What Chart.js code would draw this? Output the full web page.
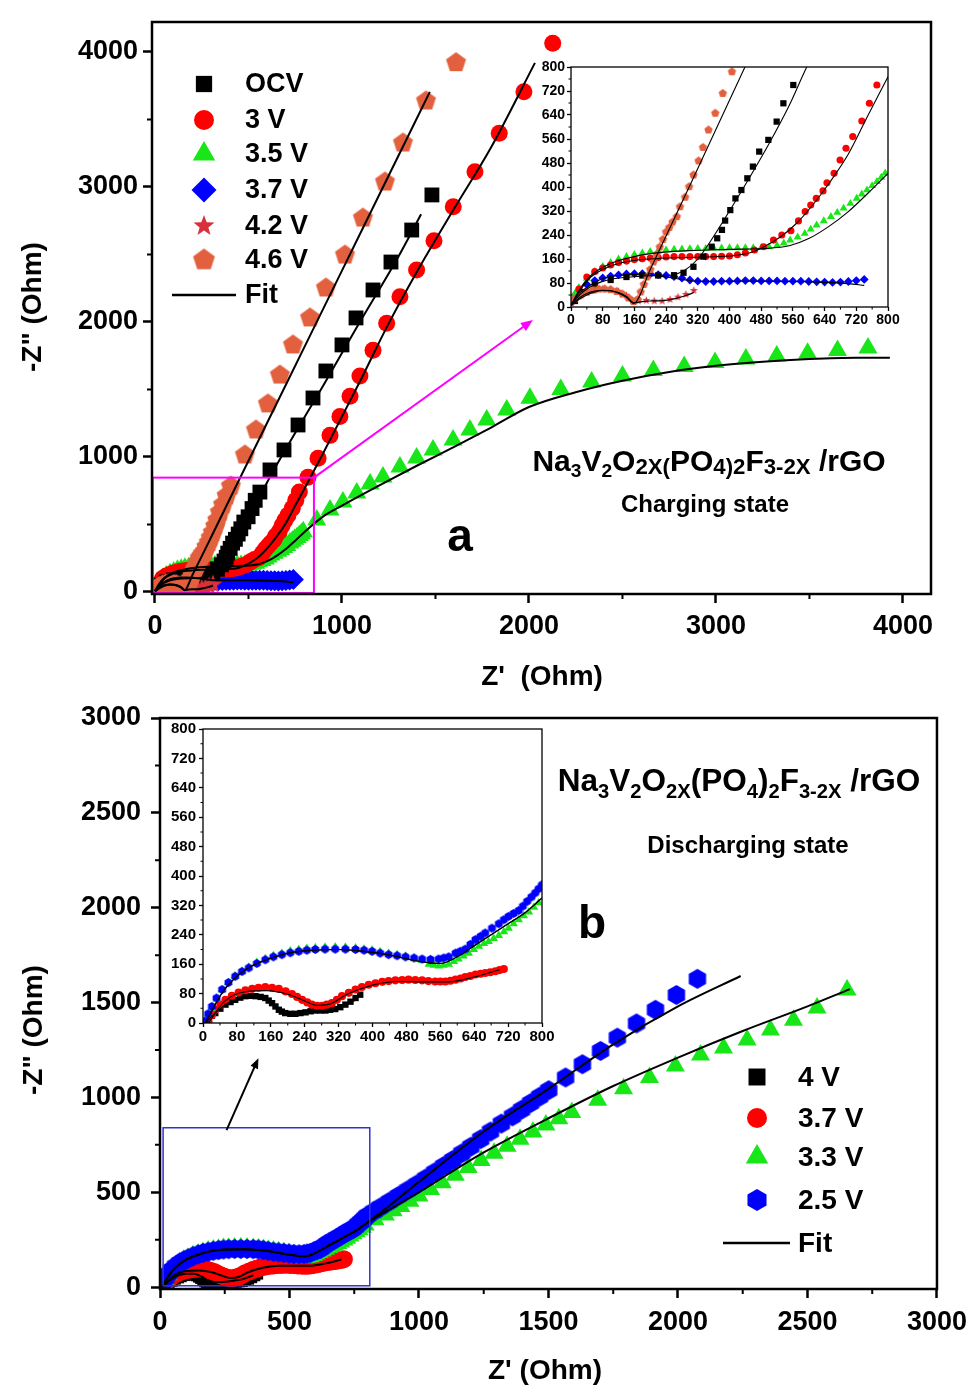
<!DOCTYPE html>
<html>
<head>
<meta charset="utf-8">
<script src="https://cdn.jsdelivr.net/npm/chart.js@4.4.0/dist/chart.umd.min.js"></script>
<style>
  body { margin: 0; background: #fff; }
  #page { position: relative; width: 975px; height: 1392px; overflow: hidden; font-family: "Liberation Sans", Arial, sans-serif; }
  #page canvas { position: absolute; left: 0; top: 0; }
  .lbl { position: absolute; font-weight: bold; color: #000; white-space: nowrap; transform: translate(-50%, -50%); line-height: 1; }
  .lbl sub { font-size: 0.64em; vertical-align: -0.32em; line-height: 0; }
  .lbl .s { font-size: 0.74em; vertical-align: -0.12em; }
  .rot { transform: translate(-50%, -50%) rotate(-90deg); }
</style>
</head>
<body>
<div id="page">
  <canvas id="mainA" width="975" height="1392"></canvas>
  <canvas id="insetA" width="975" height="1392"></canvas>
  <canvas id="mainB" width="975" height="1392"></canvas>
  <canvas id="insetB" width="975" height="1392"></canvas>

  <div class="lbl rot" style="left:32px;top:307px;font-size:28px;">-Z" (Ohm)</div>
  <div class="lbl" style="left:542px;top:676px;font-size:28px;">Z'&nbsp;&nbsp;(Ohm)</div>
  <div class="lbl" style="left:709px;top:462px;font-size:30px;">Na<sub>3</sub>V<sub>2</sub>O<span class="s">2X(</span>PO<span class="s">4)2</span>F<span class="s">3-2X</span> /rGO</div>
  <div class="lbl" style="left:705px;top:504px;font-size:24px;">Charging state</div>
  <div class="lbl" style="left:460px;top:535px;font-size:46px;">a</div>

  <div class="lbl rot" style="left:33px;top:1030px;font-size:28px;">-Z" (Ohm)</div>
  <div class="lbl" style="left:545px;top:1370px;font-size:28px;">Z' (Ohm)</div>
  <div class="lbl" style="left:739px;top:781px;font-size:31.5px;">Na<sub>3</sub>V<sub>2</sub>O<sub>2X</sub>(PO<sub>4</sub>)<sub>2</sub>F<sub>3-2X</sub> /rGO</div>
  <div class="lbl" style="left:748px;top:845px;font-size:24px;">Discharging state</div>
  <div class="lbl" style="left:592px;top:922px;font-size:46px;">b</div>
</div>

<script>
// ---------- panel a : charging state ----------
const aLabels = ['OCV', '3 V', '3.5 V', '3.7 V', '4.2 V', '4.6 V', 'Fit'];

const ocvX = [10,30,60,100,140,180,220,260,284,309,334,355,369,381,389,402,415,430,445,459,475,498,519,536,561,615,690,765,845,914,1000,1075,1166,1262,1373,1481];
const ocvY = [20,50,75,90,100,105,105,106,114,134,168,201,229,257,288,323,362,390,429,468,518,557,618,679,740,904,1052,1237,1437,1637,1830,2030,2237,2444,2681,2941];

const v30X = [5,20,40,60,80,100,120,140,160,180,200,220,240,260,280,300,320,340,360,380,400,420,440,463,486,511,532,555,574,591,605,619,636,646,664,679,694,711,734,753,772,818,872,936,989,1043,1096,1166,1239,1310,1399,1492,1595,1711,1841,1973,2127];
const v30Y = [20,60,100,118,130,140,148,153,158,161,163,165,167,168,168,168,168,168,168,169,170,174,180,190,201,223,240,254,287,318,340,362,387,414,446,490,529,568,620,679,740,850,990,1160,1300,1450,1600,1790,1990,2187,2385,2602,2854,3113,3398,3706,4064];

const v35X = [0,10,20,40,60,80,100,120,140,160,180,200,220,240,260,280,300,320,340,360,380,400,420,440,460,480,500,520,537,553,572,590,605,620,638,656,672,688,705,721,734,747,760,772,783,793,865,936,1005,1079,1150,1219,1310,1399,1487,1594,1684,1774,1881,2005,2170,2335,2500,2665,2830,2995,3160,3325,3490,3650,3813];
const v35Y = [20,45,65,95,118,135,148,160,168,175,180,185,187,190,192,193,194,195,195,196,196,197,197,197,197,198,200,205,213,223,233,245,259,273,287,301,315,329,345,362,376,390,404,418,432,446,533,607,667,733,800,852,926,993,1052,1126,1200,1274,1348,1435,1500,1555,1600,1640,1670,1700,1725,1748,1768,1788,1807];

const v37X = [0,10,20,40,60,80,100,120,140,160,180,200,220,240,260,280,300,320,340,360,380,400,420,440,460,480,500,520,540,560,580,600,620,640,660,680,700,720,740];
const v37Y = [20,40,55,75,88,97,103,107,110,111,111,110,108,105,101,96,90,86,85,85,86,86,87,88,88,87,87,87,86,86,86,85,84,83,82,83,85,88,92];

const v42X = [0,10,20,40,60,80,100,120,140,155,170,190,210,230,250,270,290,310];
const v42Y = [15,25,35,48,56,60,58,52,38,22,20,22,20,20,25,33,42,55];

const v46X = [0,10,25,40,55,70,85,100,115,130,145,158,168,176,184,192,200,208,216,224,232,240,248,256,267,275,288,298,309,322,333,347,364,383,406,481,540,604,668,738,829,914,1016,1112,1230,1326,1449,1610];
const v46Y = [15,28,40,50,56,60,60,58,52,43,30,18,25,50,75,100,125,150,175,200,225,250,265,283,301,334,366,401,440,487,532,590,646,712,784,1015,1200,1393,1607,1830,2030,2252,2496,2770,3037,3326,3637,3921];

// fitted curves, panel a
const fOcvX = [0,30,60,100,150,200,250,290,320,350,400,450,500,550,595,700,900,1100,1300,1423];
const fOcvY = [10,50,75,92,100,104,106,125,160,215,320,430,545,670,800,1060,1530,2010,2480,2798];
const f30X = [0,20,50,80,120,160,200,260,320,400,450,486,530,570,610,650,700,750,801,900,1000,1100,1239,1400,1600,1800,2032];
const f30Y = [5,50,100,125,145,155,160,164,166,170,180,200,235,280,340,410,510,640,770,1030,1300,1570,1960,2370,2840,3300,3919];
const f35X = [0,20,50,100,150,200,300,400,500,553,600,650,700,750,800,900,1000,1200,1400,1600,1800,2000,2250,2500,2750,3000,3250,3500,3750,3930];
const f35Y = [5,55,105,145,165,178,188,192,196,205,228,268,318,380,445,560,640,790,935,1075,1220,1370,1480,1565,1630,1675,1705,1725,1735,1735];
const f37X = [0,20,40,80,120,160,200,240,280,320,400,500,600,700,740];
const f37Y = [5,45,65,95,105,108,106,100,92,86,86,86,84,78,72];
const f42X = [0,20,40,60,80,100,120,140,160,180,200,230,260,290,310];
const f42Y = [5,25,40,50,55,54,48,35,14,18,20,21,27,38,48];
const f46X = [0,20,40,60,80,100,120,140,158,200,300,439,700,1000,1250,1470];
const f46Y = [5,30,45,53,56,54,46,32,12,125,405,800,1535,2380,3085,3704];

// ---------- panel b : discharging state ----------
const bLabels = ['4 V', '3.7 V', '3.3 V', '2.5 V', 'Fit'];

const d40X = [5,13,21,29,41,53,65,76,88,100,112,124,136,147,155,163,171,179,186,194,206,218,230,242,254,265,277,289,300,312,324,336,348,360,371];
const d40Y = [3,10,20,27,39,50,57,63,69,73,74,73,71,68,61,54,45,36,31,27,25,25,27,29,32,34,34,34,36,38,43,50,58,68,77];

const d37X = [13,21,29,41,53,68,84,100,116,131,147,163,179,195,210,222,234,246,257,269,281,292,304,316,328,344,360,375,391,407,423,438,454,470,485,501,517,532,548,560,572,584,596,608,619,631,643,655,666,678,690,700,710];
const d37Y = [5,22,36,50,63,74,83,89,93,96,98,96,93,86,79,71,63,56,50,47,47,50,54,63,73,82,91,98,104,108,112,114,116,117,118,117,116,114,113,113,113,115,118,121,125,128,132,134,136,138,141,144,147];

const d33X = [5,12,20,32,45,60,75,92,108,127,147,166,186,206,226,245,265,288,312,336,360,380,399,418,438,458,478,498,517,533,545,556,568,580,592,603,615,627,639,651,663,674,686,698,710,721,733,745,757,769,781,792,830,870,900,930,965,1000,1045,1090,1140,1190,1240,1290,1340,1390,1440,1490,1540,1590,1690,1790,1890,1990,2087,2176,2267,2357,2446,2537,2653];
const d33Y = [5,22,40,65,90,110,128,141,152,165,175,183,190,196,200,203,205,206,207,206,204,201,198,194,190,186,182,176,170,160,157,155,157,160,167,174,182,190,200,209,216,222,230,238,248,258,270,281,292,302,315,327,355,380,402,425,452,480,515,550,590,630,668,705,742,780,818,855,888,920,985,1045,1105,1165,1223,1260,1302,1355,1407,1471,1566];

const d25X = [5,12,21,32,45,60,76,92,108,127,147,166,186,206,226,245,265,288,312,336,360,380,399,418,438,458,478,498,517,537,556,568,580,596,607,619,631,643,655,666,682,698,710,721,733,745,755,765,775,784,792,800,825,850,885,920,955,990,1025,1060,1095,1130,1165,1200,1238,1276,1318,1361,1396,1431,1466,1501,1566,1631,1701,1766,1840,1913,1994,2075];
const d25Y = [5,25,45,68,91,110,127,140,150,162,172,180,186,191,195,198,200,201,201,201,200,198,195,190,186,183,180,177,174,173,174,177,180,190,195,201,214,227,236,245,258,270,281,290,298,306,318,331,343,354,365,376,398,420,450,480,510,540,572,605,638,670,705,740,780,820,862,900,935,970,1004,1038,1105,1175,1245,1315,1390,1462,1540,1625];

// fitted curves, panel b
const g40X = [5,30,60,100,130,160,185,210,240,280,320,360];
const g40Y = [0,28,55,70,70,56,36,27,27,33,42,62];
const g37X = [13,50,100,150,200,240,270,300,340,400,460,520,580,640,700];
const g37Y = [0,58,85,88,78,60,48,52,78,103,113,112,112,125,145];
const g33X = [5,50,100,150,200,260,320,380,440,500,540,560,600,640,680,720,760,800,900,1000,1250,1500,1750,2000,2250,2500,2664];
const g33Y = [0,90,145,172,190,198,200,195,185,170,163,162,180,210,240,270,300,340,420,500,710,890,1060,1210,1350,1480,1571];
const g25X = [5,50,100,150,200,260,320,380,440,500,540,560,600,640,680,720,760,800,900,1000,1250,1500,1750,2000,2242];
const g25Y = [0,90,145,172,190,198,200,195,185,170,163,162,180,210,240,270,300,340,445,555,820,1045,1280,1480,1640];

// ---------- ticks ----------
const aTicks = [0, 1000, 2000, 3000, 4000];
const aMinor = [500, 1500, 2500, 3500];
const bTicks = [0, 500, 1000, 1500, 2000, 2500, 3000];
const bMinor = [250, 750, 1250, 1750, 2250, 2750];
const inTicks = [0, 80, 160, 240, 320, 400, 480, 560, 640, 720, 800];
const inMinor = [40, 120, 200, 280, 360, 440, 520, 600, 680, 760];

// ---------- helpers ----------
const W = 975, H = 1392;
const FONT = '"Liberation Sans", Arial, sans-serif';
const C = { black: '#000000', red: '#ff0000', green: '#19e619', blue: '#0000ff', star: '#d8303c', penta: '#e2603e' };

function pts(xs, ys) { return xs.map((x, i) => ({ x: x, y: ys[i] })); }

// filled polygon / star markers that Chart.js does not have
function shape(kind, r, color) {
  const s = Math.ceil(r * 2 + 2);
  const c = document.createElement('canvas');
  c.width = s; c.height = s;
  const g = c.getContext('2d');
  g.fillStyle = color;
  g.beginPath();
  const n = kind === 'star' ? 10 : (kind === 'hex' ? 6 : 5);
  for (let i = 0; i < n; i++) {
    const a = -Math.PI / 2 + i * 2 * Math.PI / n;
    const rr = (kind === 'star' && i % 2) ? r * 0.42 : r;
    g.lineTo(s / 2 + rr * Math.cos(a), s / 2 + rr * Math.sin(a));
  }
  g.closePath();
  g.fill();
  return c;
}

function marks(xs, ys, color, style, r, order) {
  return { data: pts(xs, ys), backgroundColor: color, borderWidth: 0, pointStyle: style,
           pointRadius: r, pointHoverRadius: r, showLine: false, order: order };
}
function fit(xs, ys, w) {
  return { data: pts(xs, ys), showLine: true, borderColor: '#000', borderWidth: w, pointRadius: 0,
           fill: false, cubicInterpolationMode: 'monotone', order: 0 };
}

function arrow(ctx, x0, y0, x1, y1, color, w, head) {
  const ang = Math.atan2(y1 - y0, x1 - x0);
  ctx.strokeStyle = color; ctx.fillStyle = color; ctx.lineWidth = w;
  ctx.beginPath(); ctx.moveTo(x0, y0);
  ctx.lineTo(x1 - Math.cos(ang) * head * 0.7, y1 - Math.sin(ang) * head * 0.7); ctx.stroke();
  ctx.beginPath(); ctx.moveTo(x1, y1);
  ctx.lineTo(x1 - head * Math.cos(ang - 0.38), y1 - head * Math.sin(ang - 0.38));
  ctx.lineTo(x1 - head * Math.cos(ang + 0.38), y1 - head * Math.sin(ang + 0.38));
  ctx.closePath(); ctx.fill();
}

function legend(ctx, items, mx, tx, fs) {
  ctx.save();
  ctx.font = 'bold ' + fs + 'px ' + FONT;
  ctx.textBaseline = 'middle';
  items.forEach(it => {
    if (it.line) {
      ctx.strokeStyle = '#000'; ctx.lineWidth = 2.5;
      ctx.beginPath(); ctx.moveTo(it.line[0], it.y); ctx.lineTo(it.line[1], it.y); ctx.stroke();
    } else {
      ctx.fillStyle = it.color;
      Chart.helpers.drawPoint(ctx, { pointStyle: it.style, radius: it.r, rotation: 0, borderWidth: 0 }, mx, it.y);
    }
    ctx.fillStyle = '#000';
    ctx.fillText(it.label, tx, it.y + 1);
  });
  ctx.restore();
}

// frame, minor ticks, white inset background and extra drawings
function deco(cfg) {
  return {
    id: 'deco',
    beforeDraw(chart) {
      if (!cfg.white) return;
      const a = chart.chartArea, ctx = chart.ctx;
      ctx.save(); ctx.fillStyle = '#fff';
      ctx.fillRect(a.left, a.top, a.right - a.left, a.bottom - a.top);
      ctx.restore();
    },
    afterDraw(chart) {
      const ctx = chart.ctx, a = chart.chartArea, sx = chart.scales.x, sy = chart.scales.y;
      ctx.save();
      if (cfg.extra) cfg.extra(chart);
      ctx.strokeStyle = '#000'; ctx.lineWidth = cfg.lw;
      ctx.strokeRect(a.left, a.top, a.right - a.left, a.bottom - a.top);
      ctx.lineWidth = cfg.lw * 0.8;
      ctx.beginPath();
      cfg.minorX.forEach(v => { const p = sx.getPixelForValue(v); ctx.moveTo(p, a.bottom); ctx.lineTo(p, a.bottom + cfg.minorLen); });
      cfg.minorY.forEach(v => { const p = sy.getPixelForValue(v); ctx.moveTo(a.left, p); ctx.lineTo(a.left - cfg.minorLen, p); });
      ctx.stroke();
      ctx.restore();
    }
  };
}

function axis(range, ticks, fs, pad, lw, tl, fitFn) {
  return {
    type: 'linear', min: range[0], max: range[1],
    afterFit: fitFn,
    afterBuildTicks: s => { s.ticks = ticks.map(v => ({ value: v })); },
    border: { display: false },
    grid: { drawOnChartArea: false, drawTicks: true, tickLength: tl, tickWidth: lw, tickColor: '#000' },
    ticks: { color: '#000', padding: pad, autoSkip: false, maxRotation: 0,
             font: { family: FONT, size: fs, weight: 'bold' }, callback: v => String(v) }
  };
}

function build(id, box, xr, yr, o) {
  return new Chart(document.getElementById(id), {
    type: 'scatter',
    data: { datasets: o.datasets },
    options: {
      responsive: false, animation: false, events: [],
      layout: { padding: { left: box.l - o.yw, top: box.t, right: W - box.r, bottom: H - box.b - o.xh } },
      plugins: { legend: { display: false }, tooltip: { enabled: false } },
      scales: {
        x: axis(xr, o.xTicks, o.fs, o.padX, o.lw, o.tl, s => { s.height = o.xh; }),
        y: axis(yr, o.yTicks, o.fs, o.padY, o.lw, o.tl, s => { s.width = o.yw; })
      }
    },
    plugins: [deco({ lw: o.lw, minorX: o.minorX, minorY: o.minorY, minorLen: o.minorLen, white: o.white, extra: o.extra })]
  });
}

function setA(big) {
  const k = big ? 1 : 0.42;
  const w = big ? 2 : 1.1;
  return [
    fit(fOcvX, fOcvY, w), fit(f30X, f30Y, w), fit(f35X, f35Y, w),
    fit(f37X, f37Y, w), fit(f42X, f42Y, w), fit(f46X, f46Y, w),
    marks(v46X, v46Y, C.penta, shape('penta', 10.5 * k, C.penta), 10 * k, 1),
    marks(v42X, v42Y, C.star, shape('star', 10 * k, C.star), 9 * k, 2),
    marks(ocvX, ocvY, C.black, 'rect', 10.5 * k, 3),
    marks(v30X, v30Y, C.red, 'circle', 8.5 * k, 4),
    marks(v35X, v35Y, C.green, 'triangle', 11 * k, 5),
    marks(v37X, v37Y, C.blue, 'rectRot', 10.5 * k, 6)
  ];
}

function setB(big) {
  const k = big ? 1 : 0.45;
  const w = big ? 2 : 1.1;
  return [
    fit(g40X, g40Y, w), fit(g37X, g37Y, w), fit(g33X, g33Y, w), fit(g25X, g25Y, w),
    marks(d25X, d25Y, C.blue, shape('hex', 10 * k, C.blue), 10 * k, 1),
    marks(d33X, d33Y, C.green, 'triangle', 11 * k, 2),
    marks(d37X, d37Y, C.red, 'circle', 9 * k, 3),
    marks(d40X, d40Y, C.black, 'rect', 10 * k, 4)
  ];
}

// ---------- panel a ----------
build('mainA', { l: 152, t: 22, r: 931, b: 594 }, [-16, 4150], [-15, 4222], {
  datasets: setA(true), xTicks: aTicks, yTicks: aTicks, minorX: aMinor, minorY: aMinor,
  fs: 27, padX: 7, padY: 5, lw: 2.5, tl: 9, minorLen: 5, yw: 100, xh: 60,
  extra: chart => {
    const ctx = chart.ctx, sx = chart.scales.x, sy = chart.scales.y;
    ctx.strokeStyle = '#ff00ff'; ctx.lineWidth = 2;
    const x0 = sx.getPixelForValue(-12), x1 = sx.getPixelForValue(850);
    const y0 = sy.getPixelForValue(847), y1 = sy.getPixelForValue(-8);
    ctx.strokeRect(x0, y0, x1 - x0, y1 - y0);
    arrow(ctx, x1, y0, sx.getPixelForValue(2021), sy.getPixelForValue(2015), '#ff00ff', 2, 13);
    legend(ctx, [
      { label: aLabels[0], y: 84, color: C.black, style: 'rect', r: 11.5 },
      { label: aLabels[1], y: 120, color: C.red, style: 'circle', r: 10 },
      { label: aLabels[2], y: 154, color: C.green, style: 'triangle', r: 13 },
      { label: aLabels[3], y: 190, color: C.blue, style: 'rectRot', r: 12.5 },
      { label: aLabels[4], y: 226, color: C.star, style: shape('star', 11, C.star), r: 10 },
      { label: aLabels[5], y: 260, color: C.penta, style: shape('penta', 11.5, C.penta), r: 11 },
      { label: aLabels[6], y: 295, line: [172, 236] }
    ], 204, 245, 27);
  }
});

build('insetA', { l: 571, t: 67, r: 888, b: 307 }, [0, 800], [0, 800], {
  datasets: setA(false), xTicks: inTicks, yTicks: inTicks, minorX: inMinor, minorY: inMinor,
  fs: 14, padX: 1, padY: 2, lw: 1.3, tl: 4, minorLen: 2.5, yw: 40, xh: 25, white: true
});

// ---------- panel b ----------
build('mainB', { l: 160, t: 718, r: 937, b: 1289 }, [0, 3000], [-10, 3000], {
  datasets: setB(true), xTicks: bTicks, yTicks: bTicks, minorX: bMinor, minorY: bMinor,
  fs: 27, padX: 8, padY: 10, lw: 2.5, tl: 9, minorLen: 5, yw: 100, xh: 60,
  extra: chart => {
    const ctx = chart.ctx, sx = chart.scales.x, sy = chart.scales.y;
    ctx.strokeStyle = '#3333cc'; ctx.lineWidth = 1.5;
    const x0 = sx.getPixelForValue(12), x1 = sx.getPixelForValue(810);
    const y0 = sy.getPixelForValue(840), y1 = sy.getPixelForValue(7);
    ctx.strokeRect(x0, y0, x1 - x0, y1 - y0);
    arrow(ctx, sx.getPixelForValue(257), sy.getPixelForValue(828), sx.getPixelForValue(380), sy.getPixelForValue(1207), '#000', 2, 11);
    legend(ctx, [
      { label: bLabels[0], y: 1077, color: C.black, style: 'rect', r: 12 },
      { label: bLabels[1], y: 1118, color: C.red, style: 'circle', r: 10 },
      { label: bLabels[2], y: 1157, color: C.green, style: 'triangle', r: 13 },
      { label: bLabels[3], y: 1200, color: C.blue, style: shape('hex', 11, C.blue), r: 11 },
      { label: bLabels[4], y: 1243, line: [723, 790] }
    ], 757, 798, 28);
  }
});

build('insetB', { l: 203, t: 729, r: 542, b: 1023 }, [0, 800], [0, 800], {
  datasets: setB(false), xTicks: inTicks, yTicks: inTicks, minorX: inMinor, minorY: inMinor,
  fs: 15, padX: 1, padY: 3, lw: 1.3, tl: 4, minorLen: 2.5, yw: 40, xh: 25, white: true
});
</script>
</body>
</html>
